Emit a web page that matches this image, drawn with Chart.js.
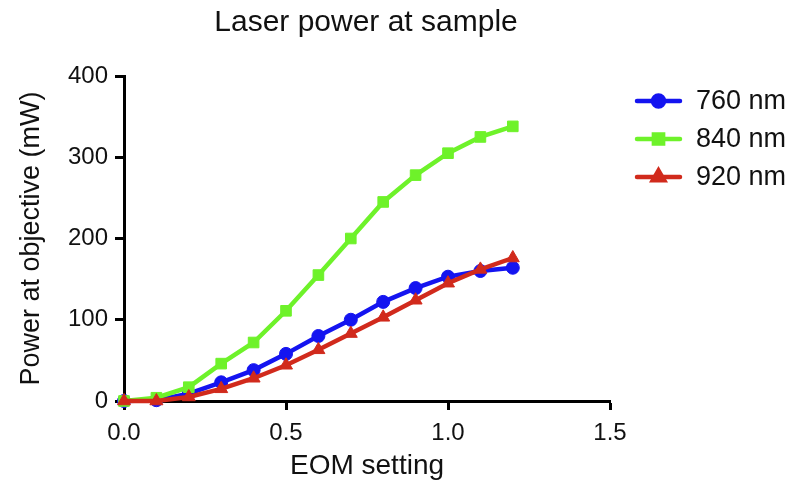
<!DOCTYPE html>
<html>
<head>
<meta charset="utf-8">
<title>Laser power at sample</title>
<script src="https://cdn.jsdelivr.net/npm/chart.js@4.4.1/dist/chart.umd.min.js"></script>
<style>
  html, body { margin: 0; padding: 0; background: #fff; }
  #wrap { width: 789px; height: 487px; }
</style>
</head>
<body>
<div id="wrap"><canvas id="powerChart" width="789" height="487"></canvas></div>
<script>
// ---------------- Data ----------------
const eomSettings = [0.0, 0.1, 0.2, 0.3, 0.4, 0.5, 0.6, 0.7, 0.8, 0.9, 1.0, 1.1, 1.2];
const power760 = [0, 1, 9, 23, 38, 58, 80, 100, 122, 139, 153, 160, 164];
const power840 = [0, 4, 17, 46, 72, 111, 155, 200, 245, 278, 305, 325, 338];
const power920 = [0, 0, 5, 15, 28, 44, 63, 83, 103, 124, 145, 162, 176];
const seriesNames = ['760 nm', '840 nm', '920 nm'];
const chartTitle = 'Laser power at sample';

const xTicks = [0, 0.5, 1.0, 1.5];
const yTicks = [0, 100, 200, 300, 400];

const FONT = '"Liberation Sans", Arial, Helvetica, sans-serif';

// pair x and y values for the linear x axis
function toPoints(values) {
  return values.map((v, i) => ({ x: eomSettings[i], y: v }));
}

// Title (centred like the original) + legend with line and marker
const figureText = {
  id: 'figureText',
  afterDraw(chart) {
    const ctx = chart.ctx;
    ctx.save();
    ctx.fillStyle = '#111';
    ctx.font = '30px ' + FONT;
    ctx.textAlign = 'center';
    ctx.textBaseline = 'middle';
    ctx.fillText(chartTitle, 366, 23);
    ctx.restore();

    const x0 = 637, x1 = 680, textX = 696;
    const rows = [101, 139, 177];
    chart.data.datasets.forEach((ds, i) => {
      const y = rows[i];
      ctx.save();
      ctx.strokeStyle = ds.borderColor;
      ctx.lineWidth = 4.5;
      ctx.lineCap = 'round';
      ctx.beginPath();
      ctx.moveTo(x0, y);
      ctx.lineTo(x1, y);
      ctx.stroke();
      ctx.fillStyle = ds.pointBackgroundColor;
      ctx.strokeStyle = ds.pointBorderColor;
      Chart.helpers.drawPoint(ctx, {
        pointStyle: ds.pointStyle, radius: ds.pointRadius - 1, rotation: 0, borderWidth: 1
      }, (x0 + x1) / 2, y);
      ctx.fillStyle = '#111';
      ctx.font = '27px ' + FONT;
      ctx.textBaseline = 'middle';
      ctx.textAlign = 'left';
      ctx.fillText(ds.label, textX, y + 1);
      ctx.restore();
    });
  }
};

function makeDataset(label, values, color, style, radius, order) {
  return {
    label: label,
    data: toPoints(values),
    borderColor: color,
    backgroundColor: color,
    pointBackgroundColor: color,
    pointBorderColor: color,
    pointStyle: style,
    pointRadius: radius,
    pointBorderWidth: 1,
    borderWidth: 4.5,
    tension: 0,
    clip: false,
    order: order
  };
}

const ctx = document.getElementById('powerChart');
const powerChart = new Chart(ctx, {
  type: 'line',
  data: {
    datasets: [
      makeDataset(seriesNames[0], power760, '#1414f0', 'circle', 6.5, 2),
      makeDataset(seriesNames[1], power840, '#6ef22a', 'rect', 7.5, 1),
      makeDataset(seriesNames[2], power920, '#d12a1c', 'triangle', 7.5, 0)
    ]
  },
  options: {
    responsive: false,
    animation: false,
    layout: {
      padding: { left: 8, right: 179, top: 76, bottom: 0 }
    },
    scales: {
      x: {
        type: 'linear',
        min: 0,
        max: 1.5,
        afterBuildTicks(scale) {
          scale.ticks = xTicks.map(v => ({ value: v }));
        },
        afterFit(scale) {
          scale.height = 487 - 401;
        },
        ticks: {
          color: '#111',
          font: { family: FONT, size: 24 },
          padding: 9,
          maxRotation: 0,
          callback: v => v.toFixed(1)
        },
        grid: {
          drawOnChartArea: false,
          drawTicks: true,
          tickLength: 9,
          tickWidth: 3,
          tickColor: '#000'
        },
        border: { display: true, color: '#000', width: 3 },
        title: {
          display: true,
          text: 'EOM setting',
          color: '#111',
          font: { family: FONT, size: 28 },
          padding: { top: 0, bottom: 4 }
        }
      },
      y: {
        min: 0,
        max: 400,
        afterBuildTicks(scale) {
          scale.ticks = yTicks.map(v => ({ value: v }));
        },
        afterFit(scale) {
          scale.width = 124 - 8;
        },
        ticks: {
          color: '#111',
          font: { family: FONT, size: 24 },
          padding: 7
        },
        grid: {
          drawOnChartArea: false,
          drawTicks: true,
          tickLength: 9,
          tickWidth: 3,
          tickColor: '#000'
        },
        border: { display: true, color: '#000', width: 3 },
        title: {
          display: true,
          text: 'Power at objective (mW)',
          color: '#111',
          font: { family: FONT, size: 27 },
          padding: { top: 7, bottom: 0 }
        }
      }
    },
    plugins: {
      legend: { display: false },
      tooltip: { enabled: false },
      title: { display: false }
    }
  },
  plugins: [figureText]
});
</script>
</body>
</html>
